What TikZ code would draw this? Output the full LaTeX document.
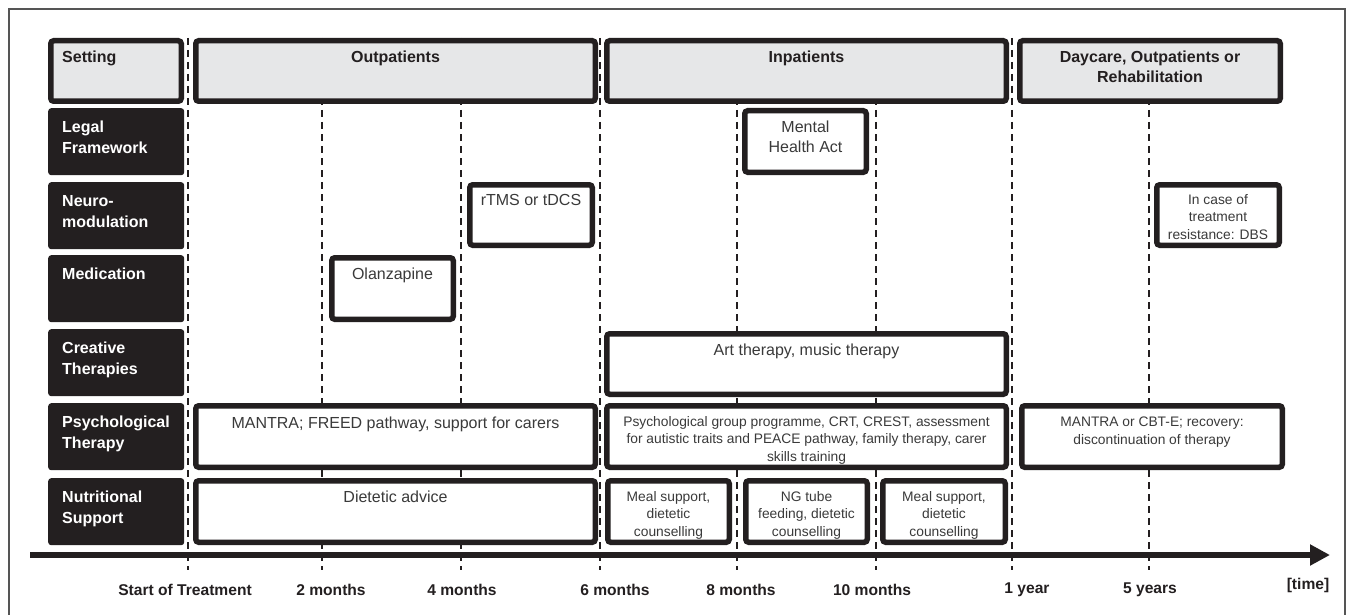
\documentclass[tikz,border=0pt]{standalone}
\usepackage{fontspec}
\setmainfont{Liberation Sans}
\usetikzlibrary{arrows.meta,positioning}
\definecolor{Ink}{RGB}{35,31,32}
\definecolor{HeadGray}{RGB}{230,231,232}
\definecolor{TextGray}{RGB}{58,58,58}
\definecolor{FrameGray}{RGB}{85,85,85}
\tikzset{
  framebox/.style={draw=FrameGray,line width=1.4pt},
  rowlab/.style={fill=Ink,rounded corners=3pt,anchor=north west,inner sep=0pt,
    minimum width=136pt,minimum height=67pt},
  labtxt/.style={text=white,font=\bfseries\fontsize{16}{21}\selectfont,align=left,
    inner sep=0pt,anchor=north west},
  setbox/.style={draw=Ink,fill=HeadGray,line width=5.5pt,rounded corners=3pt,
    anchor=north west,inner sep=0pt,minimum height=60.5pt},
  actbox/.style={draw=Ink,fill=white,line width=5.5pt,rounded corners=3pt,
    anchor=north west,inner sep=0pt,minimum height=61.5pt},
  headtxt/.style={text=Ink,font=\bfseries\fontsize{16}{20}\selectfont,align=center,
    inner sep=0pt,anchor=north},
  acttxt/.style={text=TextGray,font=\fontsize{16}{20}\selectfont,align=center,
    inner sep=0pt,anchor=north},
  smalltxt/.style={acttxt,font=\fontsize{13.8}{17.5}\selectfont},
  timeline/.style={Ink,line width=1.8pt,dash pattern=on 7pt off 5pt},
  timearrow/.style={-{Triangle[length=20pt,width=20pt]},Ink,line width=5.5pt},
  timelab/.style={text=Ink,font=\bfseries\fontsize{15.6}{18}\selectfont,inner sep=0pt}
}

\begin{document}
\begin{tikzpicture}[x=1pt,y=-1pt]
  \useasboundingbox (0,0) rectangle (1348,615);
  \draw[framebox] (9,9) rectangle (1345,640);

  % time grid and axis
  \foreach \x in {188,322,461,600,737,876,1012,1149}
    \draw[timeline] (\x,38) -- (\x,570);
  \coordinate (axS) at (30,555);
  \coordinate (axE) at (1330,555);
  \draw[timearrow] (axS) -- (axE);
  \foreach \lx/\n/\txt in {185/t0/Start of Treatment,331/t2/2 months,462/t4/4 months,
      615/t6/6 months,741/t8/8 months,872/t10/10 months,1027/t12/1 year,1150/t60/5 years}
    \node[timelab] (\n) at (\lx,590) {\txt};
  \node[timelab] (tUnit) at (1308,585) {[time]};

  % row labels
  \node[setbox,minimum width=130.5pt] (lSet) at (48,38) {};
  \node[labtxt,text=Ink,below right=13pt and 14pt of lSet.north west] (tSet) {Setting};
  \node[rowlab] (lLegal) at (48,108) {};
  \node[labtxt,below right=13pt and 14pt of lLegal.north west] (tLegal) {Legal\\Framework};
  \node[rowlab] (lNeuro) at (48,182) {};
  \node[labtxt,below right=13pt and 14pt of lNeuro.north west] (tNeuro) {Neuro-\\modulation};
  \node[rowlab] (lMed) at (48,255) {};
  \node[labtxt,below right=13pt and 14pt of lMed.north west] (tMed) {Medication};
  \node[rowlab] (lCreat) at (48,329) {};
  \node[labtxt,below right=13pt and 14pt of lCreat.north west] (tCreat) {Creative\\Therapies};
  \node[rowlab] (lPsych) at (48,403) {};
  \node[labtxt,below right=13pt and 14pt of lPsych.north west] (tPsych) {Psychological\\Therapy};
  \node[rowlab] (lNutr) at (48,478) {};
  \node[labtxt,below right=13pt and 14pt of lNutr.north west] (tNutr) {Nutritional\\Support};

  % settings
  \node[setbox,minimum width=399.5pt] (hOut) at (193,38) {};
  \node[headtxt,below=13pt of hOut.north] (tOut) {Outpatients};
  \node[setbox,minimum width=399.5pt] (hIn) at (604,38) {};
  \node[headtxt,below=13pt of hIn.north] (tIn) {Inpatients};
  \node[setbox,minimum width=260.5pt] (hDay) at (1017,38) {};
  \node[headtxt,below=13pt of hDay.north] (tDay) {Daycare, Outpatients or\\Rehabilitation};

  % legal framework, neuromodulation, medication
  \node[actbox,minimum width=121.5pt] (bMHA) at (742,108) {};
  \node[acttxt,below=13pt of bMHA.north] (tMHA) {Mental\\Health Act};
  \node[actbox,minimum width=122.5pt,minimum height=60.5pt] (bRTMS) at (467,182) {};
  \node[acttxt,below=12pt of bRTMS.north] (tRTMS) {rTMS or tDCS};
  \node[actbox,minimum width=122.5pt,minimum height=60.5pt] (bDBS) at (1154,182) {};
  \node[smalltxt,below=12pt of bDBS.north] (tDBS) {In case of\\treatment\\resistance: DBS};
  \node[actbox,minimum width=121.5pt] (bOlz) at (329,255) {};
  \node[acttxt,below=12.5pt of bOlz.north] (tOlz) {Olanzapine};

  % creative and psychological therapies
  \node[actbox,minimum width=399.5pt,minimum height=60.5pt] (bArt) at (604,331) {};
  \node[acttxt,below=13pt of bArt.north] (tArt) {Art therapy, music therapy};
  \node[actbox,minimum width=399.5pt] (bPsyOut) at (193,403) {};
  \node[acttxt,below=14pt of bPsyOut.north] (tPsyOut) {MANTRA; FREED pathway, support for carers};
  \node[actbox,minimum width=399.5pt] (bPsyIn) at (604,403) {};
  \node[smalltxt,below=13pt of bPsyIn.north] (tPsyIn) {Psychological group programme, CRT, CREST, assessment\\for autistic traits and PEACE pathway, family therapy, carer\\skills training};
  \node[actbox,minimum width=260.5pt] (bPsyDay) at (1019,403) {};
  \node[smalltxt,below=14pt of bPsyDay.north] (tPsyDay) {MANTRA or CBT-E; recovery:\\discontinuation of therapy};

  % nutritional support
  \node[actbox,minimum width=399.5pt] (bDiet) at (193,478) {};
  \node[acttxt,below=13pt of bDiet.north] (tDiet) {Dietetic advice};
  \node[actbox,minimum width=121.5pt] (bMealA) at (605,478) {};
  \node[smalltxt,below=13pt of bMealA.north] (tMealA) {Meal support,\\dietetic\\counselling};
  \node[actbox,minimum width=121.5pt] (bNG) at (743,478) {};
  \node[smalltxt,below=13pt of bNG.north] (tNG) {NG tube\\feeding, dietetic\\counselling};
  \node[actbox,minimum width=122.5pt] (bMealB) at (880,478) {};
  \node[smalltxt,below=13pt of bMealB.north] (tMealB) {Meal support,\\dietetic\\counselling};
\end{tikzpicture}
\end{document}
